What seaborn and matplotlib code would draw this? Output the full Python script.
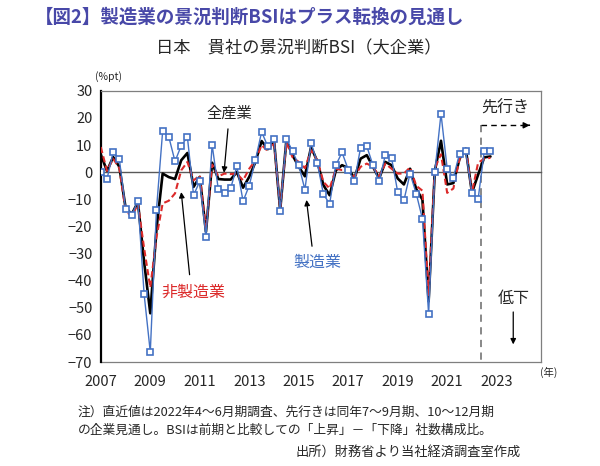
import numpy as np
import pandas as pd
import matplotlib
matplotlib.use('Agg')
import matplotlib.pyplot as plt
import seaborn as sns

sns.set_style('white')
plt.rcParams['font.family'] = ['Noto Sans CJK JP', 'DejaVu Sans']

# %% Data (quarterly BSI, large firms, 2007Q1 - 2022Q4; last two = outlook)
quarters = [y + q / 4 for y in range(2007, 2023) for q in range(4)]
n_actual = 62  # 2022Q2 is the latest survey

manufacturing = [0.0, -2.5, 7.4, 4.8, -13.4, -15.9, -10.5, -44.9,
                 -66.3, -13.8, 15.2, 13.0, 4.0, 9.8, 13.0, -8.5,
                 -3.3, -23.7, 10.1, -6.3, -7.6, -5.9, 2.2, -10.7,
                 -4.9, 4.5, 14.9, 9.5, 12.4, -14.2, 12.4, 7.7,
                 2.6, -6.4, 10.8, 3.5, -8.2, -11.6, 2.6, 7.3,
                 1.0, -3.4, 9.1, 9.6, 2.6, -3.4, 6.3, 5.4,
                 -7.3, -10.4, -0.5, -7.9, -17.2, -52.3, 0.0, 21.6,
                 1.3, -2.0, 6.9, 7.7, -7.6, -9.9, 7.7, 8.0]

all_industries = [6.5, 0.5, 5.6, 2.0, -13.0, -15.5, -11.0, -33.0,
                  -52.0, -21.0, -0.5, -1.8, -2.5, 4.4, 7.1, -5.4,
                  -1.7, -22.0, 3.5, -2.5, -2.7, -2.7, 0.1, -5.7,
                  -1.7, 3.8, 11.5, 8.5, 11.8, -14.0, 11.8, 6.3,
                  2.0, -1.5, 9.3, 4.0, -4.8, -8.5, 0.7, 2.6,
                  1.5, -2.3, 5.0, 6.3, 2.0, -2.3, 3.8, 2.6,
                  -2.3, -4.5, 1.3, -6.2, -10.1, -47.6, 0.5, 11.6,
                  -4.5, -4.0, 5.0, 8.7, -7.5, -0.9, 5.5, 5.8]

non_manufacturing = [9.3, 0.5, 5.0, 1.5, -14.0, -16.5, -11.6, -28.0,
                     -42.5, -24.0, -11.5, -10.5, -7.8, 0.7, 3.8, -3.0,
                     -1.2, -21.0, 2.8, -1.5, -0.5, -0.7, -0.5, -3.0,
                     1.3, 4.4, 10.0, 7.8, 11.2, -13.5, 11.0, 5.5,
                     3.8, 1.5, 8.1, 4.4, -3.6, -6.0, 1.3, 0.8,
                     0.8, -1.7, 2.0, 3.2, 2.0, -1.5, 3.2, 1.3,
                     -0.5, -0.5, 1.8, -5.0, -6.8, -45.3, 1.5, 6.6,
                     -7.6, -6.0, 5.0, 9.3, -7.5, 3.5, 5.0, 5.3]

year_labels = list(range(2007, 2024, 2))
y_ticks = list(range(-70, 31, 10))

df = pd.DataFrame({'quarter': quarters, 'all': all_industries,
                   'mfg': manufacturing, 'nonmfg': non_manufacturing})

# %% Plot
fig = plt.figure(figsize=(6, 4.66), dpi=100)
ax = fig.add_axes([0.168, 0.223, 0.734, 0.582])

blue = '#4472c4'
red = '#dc2a2a'

sns.lineplot(data=df, x='quarter', y='all', ax=ax, color='black', lw=1.9, zorder=3)
sns.lineplot(data=df, x='quarter', y='nonmfg', ax=ax, color=red, lw=1.5,
             linestyle=(0, (3, 1.6)), zorder=4)
sns.lineplot(data=df, x='quarter', y='mfg', ax=ax, color=blue, lw=1.0,
             marker='s', markersize=4.3, markerfacecolor='white',
             markeredgecolor=blue, markeredgewidth=1.2, zorder=5)

ax.set_xlim(2007, 2024.8)
ax.set_ylim(-70, 30)
ax.set_xlabel('')
ax.set_ylabel('')

# y axis
ax.set_yticks(y_ticks)
ax.tick_params(axis='y', direction='in', length=4, width=1, labelsize=10.5, pad=6)
ax.spines['left'].set_linewidth(1.6)
ax.spines['left'].set_color('black')
for s in ['top', 'right']:
    ax.spines[s].set_color('#7f7f7f')
    ax.spines[s].set_linewidth(0.9)

# zero line carries the yearly ticks
ax.spines['bottom'].set_position(('data', 0))
ax.spines['bottom'].set_color('#595959')
ax.spines['bottom'].set_linewidth(1.0)
ax.set_xticks(range(2007, 2025))
ax.tick_params(axis='x', direction='in', length=4, color='#595959', labelbottom=False)

sec = ax.secondary_xaxis(0.0)
sec.set_xticks(year_labels)
sec.set_xticklabels([str(y) for y in year_labels])
sec.tick_params(length=0, labelsize=10.5, pad=9)
sec.spines['bottom'].set_color('#7f7f7f')
sec.spines['bottom'].set_linewidth(0.9)

# forecast divider
divider = (quarters[n_actual - 1] + quarters[n_actual]) / 2
ax.plot([divider, divider], [17.3, -70], ls=(0, (4, 3)), color='#7f7f7f', lw=1.3, zorder=2)
ax.plot([divider, 2024.3], [17.3, 17.3], ls=(0, (4, 3)), color='black', lw=1.0)
ax.annotate('', xy=(2024.45, 17.3), xytext=(2024.2, 17.3),
            arrowprops=dict(arrowstyle='-|>', color='black', lw=1, mutation_scale=9))
ax.text(2023.35, 23.6, '先行き', fontsize=11.5, ha='center', va='center')

ax.text(2023.67, -46.5, '低下', fontsize=11.5, ha='center', va='center', style='italic')
ax.annotate('', xy=(2023.67, -64.5), xytext=(2023.67, -50.5),
            arrowprops=dict(arrowstyle='-|>', color='black', lw=0.9, mutation_scale=8))

# series labels
ax.text(2012.2, 21.8, '全産業', fontsize=11, ha='center', va='center')
ax.annotate('', xy=(2011.97, -1.2), xytext=(2012.15, 17.0),
            arrowprops=dict(arrowstyle='-|>', color='black', lw=0.9, mutation_scale=8))

ax.text(2010.75, -44.3, '非製造業', fontsize=11.5, ha='center', va='center', color=red)
ax.annotate('', xy=(2010.24, -6.3), xytext=(2010.6, -38.8),
            arrowprops=dict(arrowstyle='-|>', color='black', lw=0.9, mutation_scale=8))

ax.text(2015.75, -33.2, '製造業', fontsize=11.5, ha='center', va='center', color=blue)
ax.annotate('', xy=(2015.3, -9.2), xytext=(2015.55, -28.3),
            arrowprops=dict(arrowstyle='-|>', color='black', lw=0.9, mutation_scale=8))

# titles and notes
fig.text(0.058, 0.963, '【図2】製造業の景況判断BSIはプラス転換の見通し', fontsize=13.3,
         fontweight='bold', color='#4848a8', ha='left', va='center')
fig.text(0.498, 0.897, '日本　貴社の景況判断BSI（大企業）', fontsize=12.4,
         ha='center', va='center')
fig.text(0.158, 0.836, '(%pt)', fontsize=7.5, ha='left', va='center')
fig.text(0.9, 0.2, '(年)', fontsize=7.5, ha='left', va='center')

fig.text(0.13, 0.116, '注）直近値は2022年4～6月期調査、先行きは同年7～9月期、10～12月期',
         fontsize=9.2, ha='left', va='center')
fig.text(0.13, 0.077, 'の企業見通し。BSIは前期と比較しての「上昇」－「下降」社数構成比。',
         fontsize=9.2, ha='left', va='center')
fig.text(0.868, 0.03, '出所）財務省より当社経済調査室作成', fontsize=9.5,
         ha='right', va='center')

fig.savefig('out.png', dpi=100)
